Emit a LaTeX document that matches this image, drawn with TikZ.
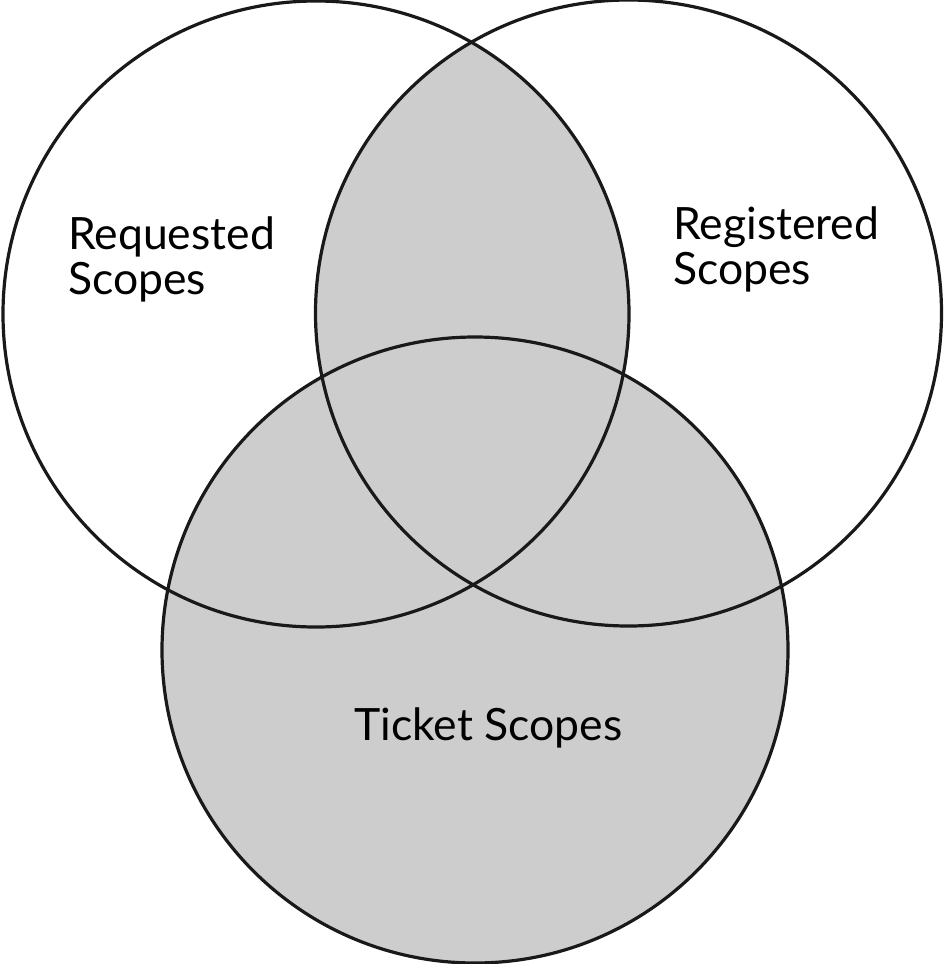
\documentclass[tikz,border=0pt]{standalone}
\usepackage{fontspec}
\setmainfont{Lato}
\definecolor{vennfill}{HTML}{CDCDCD}
\begin{document}
\begin{tikzpicture}[x=1pt,y=-1pt,
  ring/.style={draw=black!90,line width=3.2pt},
  label/.style={anchor=base west,font=\fontsize{44.5}{44.5}\selectfont,inner sep=0pt,align=left}]
\useasboundingbox (0,0) rectangle (944,964);
% circle centres and radius
\coordinate (cl) at (316,314);
\coordinate (cr) at (628.5,313);
\coordinate (cb) at (475,650);
\def\rad{313}
% shaded regions: whole bottom set and the overlap of the upper two
\fill[vennfill] (cb) circle (\rad);
\begin{scope}
  \clip (cl) circle (\rad);
  \fill[vennfill] (cr) circle (\rad);
\end{scope}
% outlines
\draw[ring] (cl) circle (\rad);
\draw[ring] (cr) circle (\rad);
\draw[ring] (cb) circle (\rad);
% set labels (anchored at the baseline of the last line)
\node[label] (req) at (68,294) {Requested\\Scopes};
\node[label] (reg) at (673,284) {Registered\\Scopes};
\node[label] (tic) at (354,740) {Ticket Scopes};
\end{tikzpicture}
\end{document}
